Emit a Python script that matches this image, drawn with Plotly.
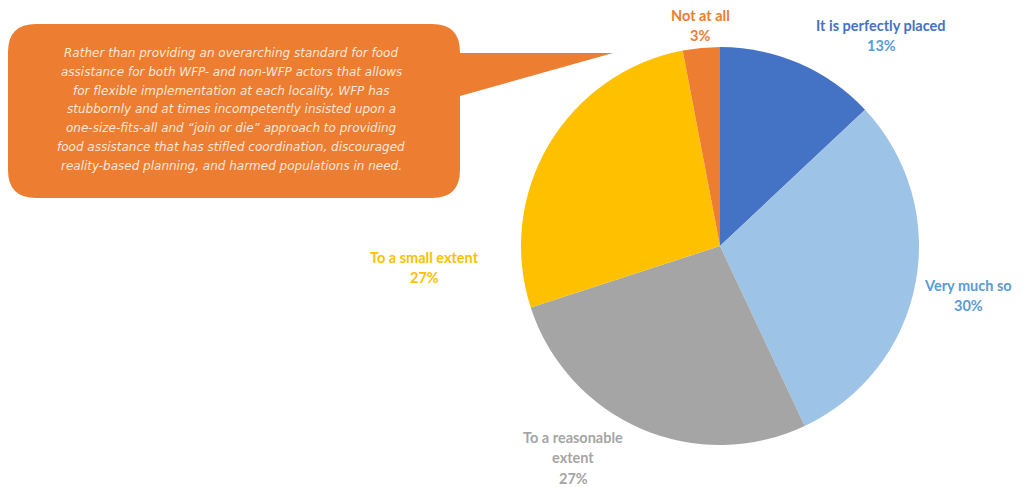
import plotly.graph_objects as go

categories = ["It is perfectly placed", "Very much so", "To a reasonable extent", "To a small extent", "Not at all"]
values = [13, 30, 27, 27, 3]
colors = ["#4472C4", "#9DC3E6", "#A5A5A5", "#FFC000", "#ED7D31"]
label_colors = ["#4472C4", "#5B9BD5", "#A5A5A5", "#FFC000", "#ED7D31"]
pct_colors = ["#5B9BD5", "#5B9BD5", "#A5A5A5", "#FFC000", "#ED7D31"]
label_lines = [["It is perfectly placed"], ["Very much so"], ["To a reasonable", "extent"], ["To a small extent"], ["Not at all"]]
callout_lines = [
    "Rather than providing an overarching standard for food",
    "assistance for both WFP- and non-WFP actors that allows",
    "for flexible implementation at each locality, WFP has",
    "stubbornly and at times incompetently insisted upon a",
    "one-size-fits-all and \u201cjoin or die\u201d approach to providing",
    "food assistance that has stifled coordination, discouraged",
    "reality-based planning, and harmed populations in need.",
]

W, H = 1029, 489
fig = go.Figure()
fig.add_trace(go.Pie(
    labels=categories, values=values, sort=False, direction="clockwise", rotation=0,
    marker=dict(colors=colors, line=dict(width=0)),
    textinfo="none", hoverinfo="label+percent", showlegend=False,
    domain=dict(x=[521 / W, 919 / W], y=[1 - 445 / H, 1 - 47 / H]),
))

# label anchor: (centre x, first line y), line step 20.5 px
label_pos = [(881, 25), (968, 285), (573, 437), (424, 257), (700, 15)]
annotations = []
for i, (lx, ly) in enumerate(label_pos):
    lines = label_lines[i] + [f"{values[i]}%"]
    for j, line in enumerate(lines):
        col = pct_colors[i] if j == len(lines) - 1 else label_colors[i]
        annotations.append(dict(
            x=lx, y=ly + j * 20.5, xref="x", yref="y", text=f"<b>{line}</b>", showarrow=False,
            font=dict(family="Lato", size=14.5, color=col),
            xanchor="center", yanchor="middle",
        ))

for k, line in enumerate(callout_lines):
    annotations.append(dict(
        x=231, y=53 + k * 18.8, xref="x", yref="y", text=f"<i>{line}</i>",
        showarrow=False, font=dict(family="DejaVu Sans", size=12, color="#FBE6D8"),
        xanchor="center", yanchor="middle",
    ))

# callout shape (rounded rect with tail)
x0, y0, x1, y1, r = 8, 24, 460, 198, 28
path = (f"M {x0+r},{y0} L {x1-r},{y0} Q {x1},{y0} {x1},{y0+r} L {x1},53 L 613,53 L {x1},96 "
        f"L {x1},{y1-r} Q {x1},{y1} {x1-r},{y1} L {x0+r},{y1} Q {x0},{y1} {x0},{y1-r} "
        f"L {x0},{y0+r} Q {x0},{y0} {x0+r},{y0} Z")
shapes = [dict(type="path", path=path, xref="x", yref="y", fillcolor="#ED7D31",
               line=dict(width=0), layer="below")]

fig.update_layout(
    width=W, height=H, margin=dict(l=0, r=0, t=0, b=0),
    paper_bgcolor="white", plot_bgcolor="rgba(0,0,0,0)",
    xaxis=dict(range=[0, W], visible=False, domain=[0, 1], fixedrange=True),
    yaxis=dict(range=[H, 0], visible=False, domain=[0, 1], fixedrange=True),
    annotations=annotations, shapes=shapes,
)
fig.write_html("out.html")
